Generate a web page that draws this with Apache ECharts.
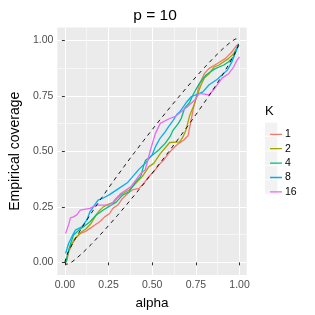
<!DOCTYPE html>
<html>
<head>
<meta charset="utf-8">
<script src="https://cdn.jsdelivr.net/npm/echarts@6/dist/echarts.min.js"></script>
<style>html,body{margin:0;padding:0;background:#fff}#c{width:315px;height:315px}</style>
</head>
<body>
<div id="c"></div>
<script>
// ---- data ----
const kLabels = ['1', '2', '4', '8', '16'];
const kColors = ['#F8766D', '#A3A500', '#00BF7D', '#00B0F6', '#E76BF3'];

const alphaK1 = [0.005,0.012,0.022,0.04,0.06,0.088,0.116,0.144,0.172,0.2,0.228,0.256,0.275,0.303,0.33,0.36,0.387,0.425,0.452,0.48,0.509,0.537,0.565,0.593,0.62,0.65,0.68,0.705,0.72,0.735,0.75,0.77,0.798,0.826,0.873,0.92,0.957,0.976,0.995];
const covK1   = [0,0.01,0.048,0.078,0.108,0.13,0.138,0.153,0.168,0.183,0.205,0.22,0.243,0.258,0.288,0.31,0.326,0.333,0.356,0.386,0.408,0.438,0.46,0.49,0.513,0.535,0.55,0.57,0.63,0.69,0.74,0.80,0.85,0.874,0.896,0.919,0.949,0.97,0.985];

const alphaK2 = [0.005,0.015,0.025,0.04,0.055,0.075,0.097,0.12,0.15,0.18,0.2,0.22,0.25,0.28,0.3,0.33,0.368,0.406,0.443,0.48,0.509,0.546,0.574,0.6,0.658,0.677,0.695,0.714,0.74,0.761,0.78,0.798,0.826,0.854,0.882,0.91,0.938,0.966,0.995];
const covK2   = [0,0.03,0.06,0.085,0.105,0.12,0.138,0.15,0.175,0.215,0.235,0.25,0.262,0.27,0.29,0.31,0.326,0.356,0.386,0.43,0.446,0.49,0.515,0.54,0.543,0.566,0.6,0.66,0.71,0.761,0.8,0.83,0.85,0.88,0.889,0.904,0.919,0.94,0.98];

const alphaK4 = [0.005,0.022,0.035,0.05,0.08,0.107,0.144,0.18,0.22,0.265,0.293,0.33,0.368,0.406,0.434,0.452,0.462,0.49,0.537,0.574,0.602,0.62,0.65,0.667,0.686,0.714,0.733,0.77,0.808,0.836,0.864,0.91,0.938,0.966,0.995];
const covK4   = [0,0.055,0.09,0.123,0.145,0.16,0.183,0.213,0.236,0.258,0.27,0.303,0.318,0.363,0.386,0.438,0.46,0.476,0.506,0.536,0.566,0.596,0.626,0.65,0.695,0.72,0.754,0.806,0.844,0.86,0.874,0.889,0.904,0.926,0.98];

const alphaK8 = [0.004,0.022,0.04,0.06,0.097,0.125,0.144,0.163,0.19,0.22,0.256,0.303,0.36,0.387,0.425,0.46,0.5,0.518,0.546,0.574,0.593,0.62,0.64,0.658,0.695,0.723,0.75,0.79,0.826,0.873,0.93,0.957,0.985,0.995];
const covK8   = [0.04,0.086,0.115,0.145,0.16,0.19,0.228,0.25,0.28,0.29,0.305,0.33,0.36,0.385,0.42,0.446,0.485,0.52,0.56,0.588,0.61,0.64,0.665,0.678,0.72,0.746,0.754,0.768,0.80,0.825,0.866,0.904,0.964,0.98];

const alphaK16 = [0.004,0.022,0.032,0.05,0.07,0.088,0.144,0.153,0.18,0.265,0.284,0.32,0.377,0.434,0.46,0.49,0.518,0.546,0.6,0.63,0.7,0.742,0.77,0.826,0.864,0.9,0.938,0.966,0.985,1.0];
const covK16   = [0.13,0.17,0.2,0.205,0.215,0.235,0.243,0.25,0.258,0.258,0.28,0.31,0.34,0.40,0.416,0.506,0.58,0.626,0.648,0.656,0.70,0.73,0.761,0.754,0.79,0.83,0.85,0.88,0.91,0.926];

const bandAlpha = [0,0.01,0.02,0.04,0.06,0.1,0.15,0.2,0.25,0.3,0.35,0.4,0.45,0.5,0.55,0.6,0.65,0.7,0.75,0.8,0.85,0.9,0.94,0.96,0.98,0.99,1];
const bandUpper = [0,0.0295,0.0474,0.0784,0.1065,0.1588,0.22,0.2784,0.3349,0.3898,0.4435,0.496,0.5475,0.598,0.6475,0.696,0.7435,0.7898,0.8349,0.8784,0.92,0.9588,0.9865,0.9984,1.0074,1.0095,1];
const bandLower = [0,-0.0095,-0.0074,0.0016,0.0135,0.0412,0.08,0.1216,0.1651,0.2102,0.2565,0.304,0.3525,0.402,0.4525,0.504,0.5565,0.6102,0.6651,0.7216,0.78,0.8412,0.8935,0.9216,0.9526,0.9705,1];

const xMajor = [0, 0.25, 0.5, 0.75, 1];
const xMinor = [0.125, 0.375, 0.625, 0.875];
const yMajor = [0, 0.25, 0.5, 0.75, 1];
const yMinor = [0.125, 0.375, 0.625, 0.875];

// ---- build chart ----
const FONT = 'Liberation Sans, Arial, Helvetica, sans-serif';
const alphas = [alphaK1, alphaK2, alphaK4, alphaK8, alphaK16];
const covs = [covK1, covK2, covK4, covK8, covK16];
const zip = (a, b) => a.map((v, i) => [v, b[i]]);
// legend key: a horizontal line in a 12x14 box
const keyIcon = 'path://M0,0L0.01,0M12,14L11.99,14M0,6.35L12,6.35L12,7.65L0,7.65Z';

const kSeries = kLabels.map((k, i) => ({
  name: k, type: 'line', data: zip(alphas[i], covs[i]),
  symbol: 'none', clip: false, silent: true,
  lineStyle: { color: kColors[i], width: 1.3 }, itemStyle: { color: kColors[i] },
  z: 3
}));
const bandSeries = [bandUpper, bandLower].map(b => ({
  type: 'line', data: zip(bandAlpha, b), symbol: 'none', clip: false, silent: true,
  lineStyle: { color: '#000', width: 0.9, type: [4, 4] }, z: 4
}));

const XMIN = -0.043, XMAX = 1.041, YMIN = -0.057, YMAX = 1.058;
const tickLabel = { color: '#4D4D4D', fontSize: 10.5, fontFamily: FONT };

const option = {
  animation: false,
  title: {
    text: 'p = 10', left: 150, top: 3, textAlign: 'center',
    textStyle: { fontSize: 15.5, fontWeight: 'normal', color: '#000', fontFamily: FONT }
  },
  grid: { left: 53.3, right: 68.3, top: 27.5, bottom: 40, show: true, backgroundColor: '#EBEBEB', borderWidth: 0 },
  xAxis: [
    { type: 'value', min: XMIN, max: XMAX, name: 'alpha', nameLocation: 'middle', nameGap: 18,
      nameTextStyle: { fontSize: 13.5, color: '#000', fontFamily: FONT },
      axisLine: { show: false },
      axisTick: { show: true, length: 3, lineStyle: { color: '#333333', width: 1 }, customValues: xMajor },
      axisLabel: Object.assign({ margin: 5, customValues: xMajor, formatter: v => v.toFixed(2) }, tickLabel),
      splitLine: { show: true, lineStyle: { color: '#FFFFFF', width: 1.1 } } },
    { type: 'value', min: XMIN, max: XMAX, gridIndex: 0, position: 'bottom',
      axisLine: { show: false }, axisLabel: { show: false },
      axisTick: { show: false, customValues: xMinor },
      splitLine: { show: true, lineStyle: { color: '#FFFFFF', width: 0.55 } } }
  ],
  yAxis: [
    { type: 'value', min: YMIN, max: YMAX, name: 'Empirical coverage', nameLocation: 'middle', nameGap: 31,
      nameRotate: 90, nameTextStyle: { fontSize: 14, color: '#000', fontFamily: FONT },
      axisLine: { show: false },
      axisTick: { show: true, length: 3, lineStyle: { color: '#333333', width: 1 }, customValues: yMajor },
      axisLabel: Object.assign({ margin: 4, customValues: yMajor, formatter: v => v.toFixed(2) }, tickLabel),
      splitLine: { show: true, lineStyle: { color: '#FFFFFF', width: 1.1 } } },
    { type: 'value', min: YMIN, max: YMAX, gridIndex: 0, position: 'left',
      axisLine: { show: false }, axisLabel: { show: false },
      axisTick: { show: false, customValues: yMinor },
      splitLine: { show: true, lineStyle: { color: '#FFFFFF', width: 0.55 } } }
  ],
  legend: {
    data: kLabels.map((k, i) => ({
      name: k, icon: keyIcon,
      itemStyle: { color: kColors[i], borderWidth: 0 },
      lineStyle: { color: kColors[i], width: 0, opacity: 0 }
    })),
    orient: 'vertical', left: 265, top: 122.3,
    itemWidth: 12, itemHeight: 14, itemGap: 0.4,
    textStyle: { fontSize: 10.5, color: '#000', fontFamily: FONT, padding: [0, 0, 0, -2] },
    selectedMode: false
  },
  graphic: [
    { type: 'text', left: 265, top: 105, style: { text: 'K', fontSize: 13, fill: '#000', fontFamily: FONT } }
  ].concat(kLabels.map((k, i) => ({
    type: 'rect', shape: { x: 265, y: 122.6 + i * 14.4, width: 12.3, height: 13.6 },
    style: { fill: '#F2F2F2' }, z: -1
  }))),
  series: kSeries.concat(bandSeries)
};

const chart = echarts.init(document.getElementById('c'));
chart.setOption(option);
</script>
</body>
</html>
